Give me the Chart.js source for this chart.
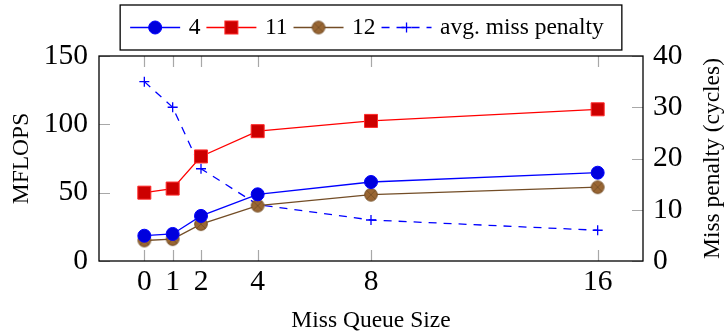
<!DOCTYPE html>
<html>
<head>
<meta charset="utf-8">
<script src="https://cdn.jsdelivr.net/npm/chart.js@4/dist/chart.umd.min.js"></script>
<style>
  html, body { margin: 0; padding: 0; background: #ffffff; }
  #wrap { width: 727px; height: 336px; }
</style>
</head>
<body>
<div id="wrap"><canvas id="chart" width="727" height="336"></canvas></div>
<script>
// Miss queue sizes on the x axis
const queueSizes = [0, 1, 2, 4, 8, 16];
// MFLOPS per configuration (left axis)
const mflops4  = [18.5, 19.8, 33, 48.8, 57.8, 64.6];
const mflops11 = [50, 53, 76.5, 95, 102.5, 111];
const mflops12 = [15, 16, 27, 40.5, 48.5, 54];
// Average miss penalty in cycles (right axis)
const missPenalty = [35, 30, 18, 11, 8, 6];

const seriesLabels = ['4', '11', '12', 'avg. miss penalty'];
const leftTicks  = [0, 50, 100, 150];
const rightTicks = [0, 10, 20, 30, 40];

const SERIF = "'Liberation Serif', 'DejaVu Serif', serif";

function pts(ys) { return queueSizes.map((x, i) => ({ x: x, y: ys[i] })); }

// circle-with-cross marker
function makeOtimes() {
  const c = document.createElement('canvas');
  c.width = 16; c.height = 16;
  const g = c.getContext('2d');
  const r = 6.3, cx = 8, cy = 8;
  g.beginPath(); g.arc(cx, cy, r, 0, Math.PI * 2);
  g.fillStyle = '#996633'; g.fill();
  g.lineWidth = 1; g.strokeStyle = '#734d26'; g.stroke();
  const d = r * Math.SQRT1_2;
  g.beginPath();
  g.moveTo(cx - d, cy - d); g.lineTo(cx + d, cy + d);
  g.moveTo(cx - d, cy + d); g.lineTo(cx + d, cy - d);
  g.lineWidth = 0.8; g.stroke();
  return c;
}
const otimes = makeOtimes();

// Inner tick marks, frame, legend and right-axis title
const framePlugin = {
  id: 'frame',
  beforeDatasetsDraw(chart) {
    const { ctx, chartArea: a, scales } = chart;
    const L = 11;
    ctx.save();
    ctx.strokeStyle = '#a8a8a8';
    ctx.lineWidth = 1.2;
    ctx.beginPath();
    scales.x.ticks.forEach(t => {
      const px = Math.round(scales.x.getPixelForValue(t.value)) + 0.5;
      ctx.moveTo(px, a.bottom); ctx.lineTo(px, a.bottom - L);
      ctx.moveTo(px, a.top); ctx.lineTo(px, a.top + L);
    });
    scales.y.ticks.forEach(t => {
      const py = Math.round(scales.y.getPixelForValue(t.value)) + 0.5;
      ctx.moveTo(a.left, py); ctx.lineTo(a.left + L, py);
    });
    scales.y2.ticks.forEach(t => {
      const py = Math.round(scales.y2.getPixelForValue(t.value)) + 0.5;
      ctx.moveTo(a.right, py); ctx.lineTo(a.right - L, py);
    });
    ctx.stroke();
    ctx.restore();
  },
  afterDraw(chart) {
    const { ctx, chartArea: a } = chart;
    ctx.save();
    // plot frame
    ctx.strokeStyle = '#000000';
    ctx.lineWidth = 1.3;
    ctx.strokeRect(a.left, a.top, a.right - a.left, a.bottom - a.top);

    // right axis title, reading bottom to top
    ctx.save();
    ctx.translate(chart.width - 14, (a.top + a.bottom) / 2);
    ctx.rotate(-Math.PI / 2);
    ctx.font = '23.5px ' + SERIF;
    ctx.fillStyle = '#000000';
    ctx.textAlign = 'center';
    ctx.textBaseline = 'middle';
    ctx.fillText('Miss penalty (cycles)', 0, 0);
    ctx.restore();

    // legend
    ctx.font = '23.5px ' + SERIF;
    const sample = 50, gapAfter = 8.5, gapBefore = 6;
    const items = chart.data.datasets.map(ds => ({ ds, w: ctx.measureText(ds.label).width }));
    let total = 0;
    items.forEach((it, i) => { total += (i ? gapBefore : 0) + sample + gapAfter + it.w; });
    const padL = 10, padR = 18;
    const boxW = padL + total + padR;
    const cx = (a.left + a.right) / 2;
    const bx = cx - boxW / 2, by = 5, bh = 45;
    ctx.fillStyle = '#ffffff';
    ctx.fillRect(bx, by, boxW, bh);
    ctx.strokeStyle = '#000000';
    ctx.lineWidth = 1.3;
    ctx.strokeRect(bx, by, boxW, bh);
    const ly = 27.5;
    let x = bx + padL;
    items.forEach((it, i) => {
      const ds = it.ds;
      if (i) x += gapBefore;
      ctx.save();
      ctx.strokeStyle = ds.borderColor;
      ctx.lineWidth = ds.borderWidth;
      ctx.setLineDash(ds.borderDash || []);
      ctx.beginPath(); ctx.moveTo(x, ly); ctx.lineTo(x + sample, ly); ctx.stroke();
      ctx.setLineDash([]);
      const mx = x + sample / 2;
      const st = ds.pointStyle, r = ds.pointRadius;
      ctx.fillStyle = ds.pointBackgroundColor;
      ctx.strokeStyle = ds.pointBorderColor;
      ctx.lineWidth = ds.pointBorderWidth;
      if (st === 'circle') {
        ctx.beginPath(); ctx.arc(mx, ly, r, 0, Math.PI * 2); ctx.fill(); ctx.stroke();
      } else if (st === 'rect') {
        const s = r * Math.SQRT1_2;
        ctx.fillRect(mx - s, ly - s, 2 * s, 2 * s); ctx.strokeRect(mx - s, ly - s, 2 * s, 2 * s);
      } else if (st === 'cross') {
        ctx.beginPath();
        ctx.moveTo(mx - r, ly); ctx.lineTo(mx + r, ly);
        ctx.moveTo(mx, ly - r); ctx.lineTo(mx, ly + r);
        ctx.stroke();
      } else if (st instanceof HTMLCanvasElement) {
        ctx.drawImage(st, mx - st.width / 2, ly - st.height / 2);
      }
      ctx.restore();
      x += sample + gapAfter;
      ctx.fillStyle = '#000000';
      ctx.textAlign = 'left';
      ctx.textBaseline = 'alphabetic';
      ctx.fillText(ds.label, x, 33.5);
      x += it.w;
    });
    ctx.restore();
  }
};

const chart = new Chart(document.getElementById('chart'), {
  type: 'line',
  data: {
    datasets: [
      {
        label: seriesLabels[0], data: pts(mflops4), yAxisID: 'y',
        borderColor: '#0000ff', borderWidth: 1.3,
        pointStyle: 'circle', pointRadius: 6.5,
        pointBackgroundColor: '#0000dd', pointBorderColor: '#0000ff', pointBorderWidth: 1
      },
      {
        label: seriesLabels[1], data: pts(mflops11), yAxisID: 'y',
        borderColor: '#ff0000', borderWidth: 1.3,
        pointStyle: 'rect', pointRadius: 9.2,
        pointBackgroundColor: '#cc0000', pointBorderColor: '#ff2a2a', pointBorderWidth: 1
      },
      {
        label: seriesLabels[2], data: pts(mflops12), yAxisID: 'y',
        borderColor: '#734d26', borderWidth: 1.3,
        pointStyle: otimes, pointRadius: 6.5,
        pointBackgroundColor: '#996633', pointBorderColor: '#734d26', pointBorderWidth: 1
      },
      {
        label: seriesLabels[3], data: pts(missPenalty), yAxisID: 'y2',
        borderColor: '#0000ff', borderWidth: 1.3, borderDash: [8, 7],
        pointStyle: 'cross', pointRadius: 5,
        pointBackgroundColor: '#0000ff', pointBorderColor: '#0000ff', pointBorderWidth: 1.3
      }
    ]
  },
  options: {
    responsive: false,
    devicePixelRatio: 1,
    animation: false,
    events: [],
    layout: { padding: { top: 56, left: 0, right: 0, bottom: 0 } },
    plugins: { legend: { display: false }, tooltip: { enabled: false } },
    elements: { line: { tension: 0, fill: false } },
    scales: {
      x: {
        type: 'linear', position: 'bottom', min: -1.6, max: 17.6,
        grid: { display: false, drawTicks: false },
        border: { display: false },
        afterBuildTicks: s => { s.ticks = queueSizes.map(v => ({ value: v })); },
        afterFit: s => { s.height = 75; },
        ticks: { color: '#000000', padding: 4, maxRotation: 0, autoSkip: false,
                 font: { family: SERIF, size: 29.5 }, callback: v => String(v) },
        title: { display: true, text: 'Miss Queue Size', color: '#000000',
                 font: { family: SERIF, size: 23.5 }, padding: { top: 0, bottom: 1 } }
      },
      y: {
        type: 'linear', position: 'left', min: 0, max: 150,
        grid: { display: false, drawTicks: false },
        border: { display: false },
        afterBuildTicks: s => { s.ticks = leftTicks.map(v => ({ value: v })); },
        afterFit: s => { s.width = 99; },
        ticks: { color: '#000000', padding: 11, font: { family: SERIF, size: 29.5 } },
        title: { display: true, text: 'MFLOPS', color: '#000000',
                 font: { family: SERIF, size: 23.5 }, padding: { top: 8, bottom: 0 } }
      },
      y2: {
        type: 'linear', position: 'right', min: 0, max: 40,
        grid: { display: false, drawTicks: false },
        border: { display: false },
        afterBuildTicks: s => { s.ticks = rightTicks.map(v => ({ value: v })); },
        afterFit: s => { s.width = 84; },
        ticks: { color: '#000000', padding: 10, font: { family: SERIF, size: 29.5 } }
      }
    }
  },
  plugins: [framePlugin]
});
</script>
</body>
</html>
